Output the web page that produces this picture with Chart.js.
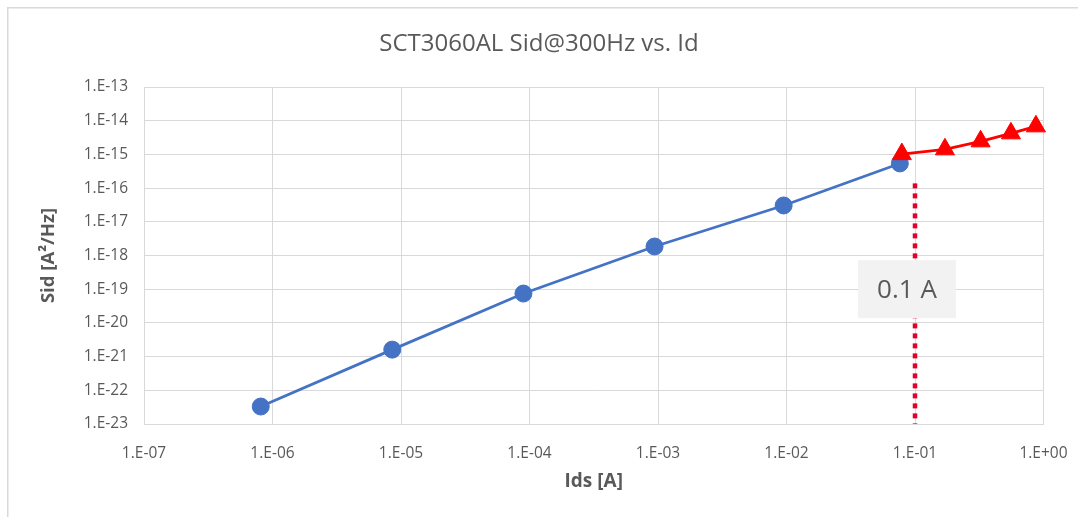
<!DOCTYPE html>
<html>
<head>
<meta charset="utf-8">
<script src="https://cdn.jsdelivr.net/npm/chart.js@4.4.1/dist/chart.umd.min.js"></script>
<style>
  html, body { margin: 0; padding: 0; background: #ffffff; }
  #wrap { width: 1078px; height: 517px; position: relative; }
</style>
</head>
<body>
<div id="wrap"><canvas id="c" width="1078" height="517"></canvas></div>
<script>
// ---- data ----
const chartTitle = 'SCT3060AL Sid@300Hz vs. Id';
const xTitle = 'Ids [A]';
const yTitle = 'Sid [A\u00B2/Hz]';

const blueIds = [8.1e-7, 8.55e-6, 8.97e-5, 9.4e-4, 9.5e-3, 7.62e-2];
const blueSid = [3.3e-23, 1.61e-21, 7.43e-20, 1.85e-18, 3.05e-17, 5.4e-16];

const redIds = [7.9e-2, 0.171, 0.324, 0.558, 0.873];
const redSid = [1.02e-15, 1.41e-15, 2.44e-15, 4.21e-15, 6.8e-15];

const markerIds = [0.1, 0.1];
const markerSid = [1.38e-16, 1e-23];
const markerLabel = '0.1 A';
const markerLabelSid = 1e-19;

const xTicks = [1e-7, 1e-6, 1e-5, 1e-4, 1e-3, 1e-2, 1e-1, 1];
const yTicks = [1e-23, 1e-22, 1e-21, 1e-20, 1e-19, 1e-18, 1e-17, 1e-16, 1e-15, 1e-14, 1e-13];

// ---- helpers ----
function fmtExp(v) {
  const e = Math.round(Math.log10(v));
  return '1.E' + (e < 0 ? '-' : '+') + String(Math.abs(e)).padStart(2, '0');
}
function pts(xs, ys) { return xs.map((x, i) => ({ x: x, y: ys[i] })); }

const GREY = '#595959';
const GRID = '#d9d9d9';
const FONT = "'Open Sans', 'Noto Sans', sans-serif";

const frame = {
  id: 'frame',
  beforeDraw(chart) {
    const ctx = chart.ctx;
    ctx.save();
    ctx.fillStyle = '#ffffff';
    ctx.fillRect(0, 0, chart.width, chart.height);
    ctx.strokeStyle = GRID;
    ctx.lineWidth = 1.5;
    ctx.strokeRect(7.75, 7.75, chart.width + 50, chart.height + 50);
    ctx.restore();
  }
};

const markerBox = {
  id: 'markerBox',
  afterDatasetsDraw(chart) {
    const ctx = chart.ctx;
    const xs = chart.scales.x, ys = chart.scales.y;
    const cx = xs.getPixelForValue(markerIds[0]) - 8;
    const cy = ys.getPixelForValue(markerLabelSid);
    const w = 98, h = 58;
    ctx.save();
    ctx.fillStyle = '#f2f2f2';
    ctx.fillRect(cx - w / 2, cy - h / 2, w, h);
    ctx.fillStyle = GREY;
    ctx.font = "26px " + FONT;
    ctx.textAlign = 'center';
    ctx.textBaseline = 'middle';
    ctx.fillText(markerLabel, cx, cy + 1);
    ctx.restore();
  }
};

new Chart(document.getElementById('c'), {
  type: 'scatter',
  data: {
    datasets: [
      {
        label: 'high',
        data: pts(redIds, redSid),
        showLine: true,
        borderColor: '#ff0000',
        backgroundColor: '#ff0000',
        borderWidth: 2.75,
        pointStyle: 'triangle',
        pointRadius: 11,
        pointBorderWidth: 1,
        tension: 0,
        clip: false,
        order: 0
      },
      {
        label: 'low',
        data: pts(blueIds, blueSid),
        showLine: true,
        borderColor: '#4472c4',
        backgroundColor: '#4472c4',
        borderWidth: 2.75,
        pointStyle: 'circle',
        pointRadius: 8.5,
        pointBorderWidth: 1,
        tension: 0,
        clip: false,
        order: 1
      },
      {
        label: 'marker',
        data: pts(markerIds, markerSid),
        showLine: true,
        borderColor: '#e3002b',
        borderWidth: 4.5,
        borderDash: [5, 5],
        pointRadius: 0,
        clip: false,
        order: 2
      }
    ]
  },
  plugins: [frame, markerBox],
  options: {
    responsive: false,
    animation: false,
    events: [],
    layout: { padding: 0 },
    plugins: {
      legend: { display: false },
      tooltip: { enabled: false },
      title: {
        display: true,
        text: chartTitle,
        color: GREY,
        font: { family: FONT, size: 24, weight: 'normal' },
        padding: { top: 29.6, bottom: 28.6 }
      }
    },
    scales: {
      x: {
        type: 'logarithmic',
        min: xTicks[0],
        max: xTicks[xTicks.length - 1],
        afterBuildTicks(scale) { scale.ticks = xTicks.map(v => ({ value: v })); },
        afterFit(scale) {
          scale.height = 93;
          scale.paddingLeft = 0;
          scale.paddingRight = 34.5;
        },
        grid: { color: GRID, lineWidth: 1, drawTicks: false },
        border: { color: GRID, width: 1 },
        ticks: {
          autoSkip: false, maxRotation: 0, minRotation: 0,
          color: GREY, padding: 20,
          font: { family: FONT, size: 15.5 },
          callback: v => fmtExp(v)
        },
        title: {
          display: true, text: xTitle, color: GREY,
          font: { family: FONT, size: 19, weight: 'bold' },
          padding: { top: 0, bottom: 23.6 }
        }
      },
      y: {
        type: 'logarithmic',
        min: yTicks[0],
        max: yTicks[yTicks.length - 1],
        afterBuildTicks(scale) { scale.ticks = yTicks.map(v => ({ value: v })); },
        afterFit(scale) {
          scale.width = 144;
          scale.paddingTop = 0;
          scale.paddingBottom = 0;
        },
        grid: { color: GRID, lineWidth: 1, drawTicks: false },
        border: { color: GRID, width: 1 },
        ticks: {
          autoSkip: false,
          color: GREY, padding: 16,
          font: { family: FONT, size: 15.5 },
          callback: v => fmtExp(v)
        },
        title: {
          display: true, text: yTitle, color: GREY,
          font: { family: FONT, size: 18.5, weight: 'bold' },
          padding: { top: 38, bottom: 0 }
        }
      }
    }
  }
});
</script>
</body>
</html>
